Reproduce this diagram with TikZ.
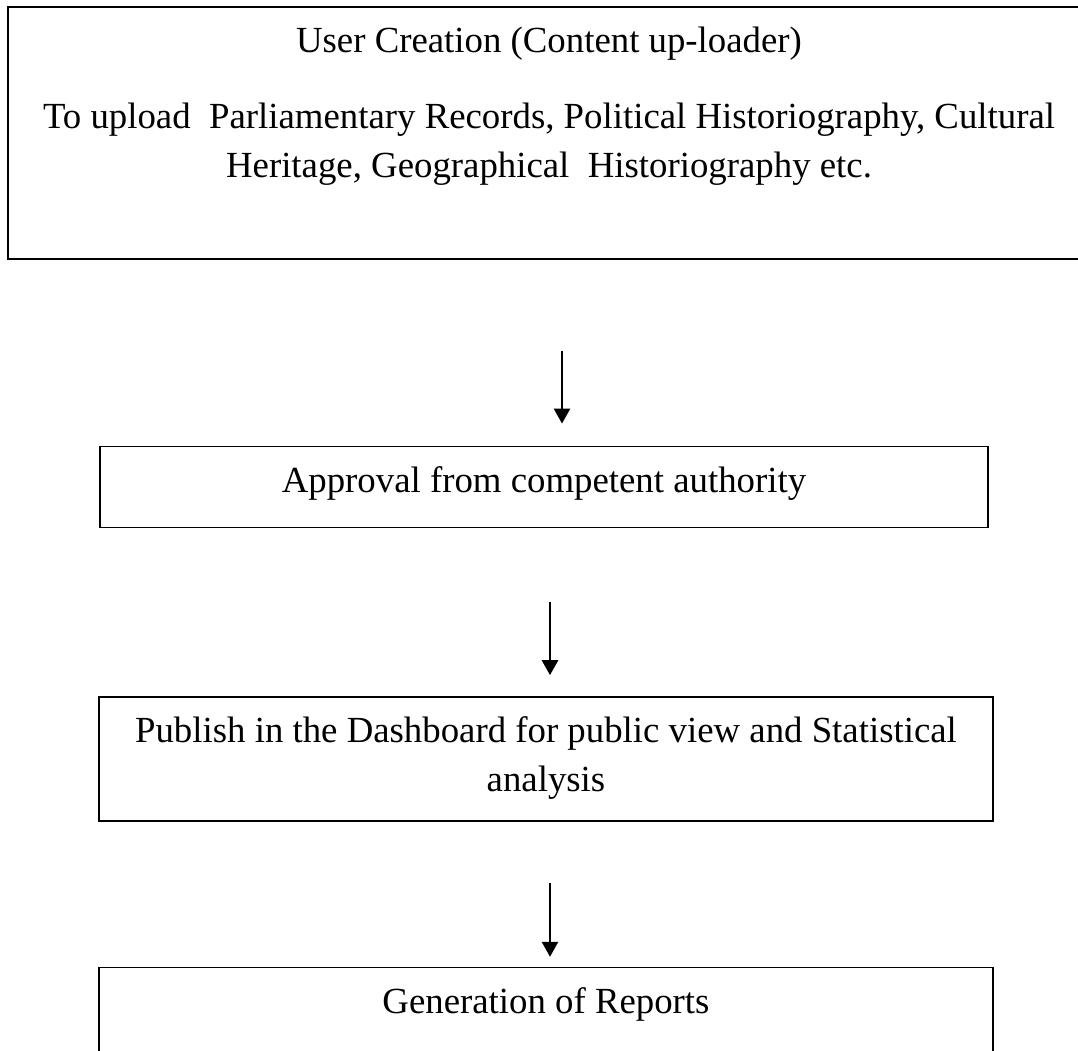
\documentclass[tikz,border=0pt]{standalone}
\usepackage{fontspec}
\setmainfont{Liberation Serif}
\usepackage{tikz}
\usetikzlibrary{positioning, arrows.meta}

\begin{document}
\begin{tikzpicture}[
    x=0.5pt, y=-0.5pt,
    % Block Styles
    stagebox/.style={rectangle, draw=black, line width=0.8pt, inner ysep=0pt, inner xsep=4pt, minimum height=0pt, align=center, font=\fontsize{18.4pt}{24.5pt}\selectfont},
    % Arrow Styles
    flow/.style={draw, -{Triangle[width=8pt, length=7.5pt]}, line width=1.3pt, color=black}
]
    \useasboundingbox (0,0) rectangle (1078,1051);
    \clip (0,0) rectangle (1078,1051);

    % Nodes
    \node [stagebox, anchor=north, minimum width=541pt] (create) at (549,6)
        {\rule{0pt}{23pt}User Creation (Content up-loader)\\[13.5pt]
         To upload~ Parliamentary Records, Political Historiography, Cultural\\
         Heritage, Geographical~ Historiography etc.\rule[-40.5pt]{0pt}{40.5pt}};
    \node [stagebox, minimum width=444pt, below=93pt of create, xshift=-2.5pt] (approve)
        {\rule{0pt}{23pt}Approval from competent authority\rule[-17.5pt]{0pt}{17.5pt}};
    \node [stagebox, minimum width=447pt, below=84pt of approve, xshift=1pt] (publish)
        {\rule{0pt}{22.5pt}Publish in the Dashboard for public view and Statistical\\
         analysis\rule[-15pt]{0pt}{15pt}};
    \node [stagebox, minimum width=447pt, below=72.5pt of publish] (reports)
        {\rule{0pt}{23pt}Generation of Reports\rule[-60pt]{0pt}{60pt}};

    % Connections / Flow
    \draw [flow] ([xshift=6.5pt, yshift=-45.5pt]create.south) -- ([xshift=9pt, yshift=11pt]approve.north);
    \draw [flow] ([xshift=3pt, yshift=-37pt]approve.south) -- ([xshift=2pt, yshift=10.5pt]publish.north);
    \draw [flow] ([xshift=2pt, yshift=-30.5pt]publish.south) -- ([xshift=2pt, yshift=5pt]reports.north);

\end{tikzpicture}
\end{document}
